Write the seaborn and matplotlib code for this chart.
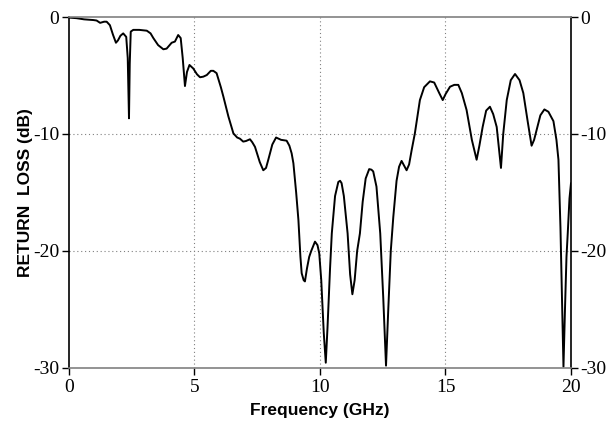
import matplotlib
matplotlib.use('Agg')
import matplotlib.pyplot as plt
import numpy as np
import pandas as pd
import seaborn as sns

# values
freq_ghz = [0.0, 0.3, 0.6, 0.97, 1.1, 1.24, 1.4, 1.5, 1.63, 1.75, 1.87, 1.95, 2.05, 2.16, 2.28, 2.34, 2.39, 2.42,
            2.46, 2.56, 2.8, 3.1, 3.25, 3.36, 3.55, 3.76, 3.89, 4.09, 4.22, 4.35, 4.45, 4.53, 4.62, 4.7, 4.8, 4.95,
            5.1, 5.22, 5.35, 5.49, 5.65, 5.75, 5.88, 6.05, 6.15, 6.35, 6.55, 6.7, 6.81, 6.94, 7.05, 7.21, 7.3, 7.41,
            7.6, 7.74, 7.85, 7.94, 8.1, 8.25, 8.45, 8.67, 8.78, 8.87, 8.94, 9.05, 9.14, 9.22, 9.27, 9.35, 9.4, 9.48,
            9.57, 9.65, 9.8, 9.9, 9.97, 10.05, 10.15, 10.23, 10.3, 10.4, 10.47, 10.6, 10.73, 10.8, 10.86, 10.95,
            11.1, 11.2, 11.29, 11.38, 11.48, 11.59, 11.7, 11.82, 11.96, 12.05, 12.12, 12.25, 12.4, 12.52, 12.63,
            12.72, 12.82, 12.92, 13.05, 13.15, 13.25, 13.35, 13.45, 13.55, 13.65, 13.78, 13.98, 14.15, 14.38, 14.55,
            14.75, 14.89, 15.0, 15.18, 15.35, 15.51, 15.65, 15.84, 16.05, 16.24, 16.35, 16.48, 16.62, 16.77, 16.9,
            17.04, 17.14, 17.21, 17.3, 17.44, 17.6, 17.77, 17.95, 18.1, 18.28, 18.43, 18.53, 18.63, 18.78, 18.94,
            19.1, 19.3, 19.42, 19.5, 19.58, 19.65, 19.7, 19.76, 19.82, 19.87, 19.94, 20.0]
return_loss_db = [-0.05, -0.1, -0.2, -0.26, -0.3, -0.5, -0.4, -0.4, -0.7, -1.5, -2.2, -2.0, -1.6, -1.4, -1.7, -3.5,
                  -8.66, -4.0, -1.25, -1.1, -1.1, -1.17, -1.4, -1.8, -2.4, -2.76, -2.7, -2.2, -2.1, -1.54, -1.8, -3.5,
                  -5.9, -4.7, -4.1, -4.4, -4.9, -5.15, -5.1, -4.96, -4.6, -4.6, -4.8, -6.0, -6.8, -8.5, -9.95, -10.3,
                  -10.4, -10.65, -10.6, -10.45, -10.7, -11.1, -12.4, -13.1, -12.9, -12.2, -10.9, -10.3, -10.5, -10.57,
                  -11.0, -11.65, -12.5, -15.0, -17.35, -20.5, -21.9, -22.5, -22.6, -21.5, -20.5, -20.0, -19.2, -19.5,
                  -20.2, -22.5, -27.0, -29.55, -26.5, -21.5, -18.5, -15.3, -14.1, -14.0, -14.2, -15.3, -18.5, -22.0,
                  -23.7, -22.5, -20.0, -18.5, -15.8, -13.8, -13.0, -13.05, -13.2, -14.5, -18.5, -24.0, -29.8, -25.0,
                  -20.0, -17.1, -14.0, -12.8, -12.3, -12.7, -13.1, -12.6, -11.4, -9.94, -7.1, -6.0, -5.5, -5.6, -6.5,
                  -7.1, -6.6, -5.96, -5.8, -5.8, -6.5, -7.95, -10.5, -12.2, -11.0, -9.4, -8.0, -7.67, -8.3, -9.4,
                  -11.5, -12.9, -10.0, -7.1, -5.4, -4.87, -5.4, -6.5, -9.0, -11.0, -10.5, -9.66, -8.4, -7.9, -8.1,
                  -8.9, -10.5, -12.2, -18.0, -25.0, -29.9, -25.0, -20.5, -18.5, -15.5, -14.2]
x_ticks = [0, 5, 10, 15, 20]
y_ticks = [0, -10, -20, -30]

df = pd.DataFrame({'freq': freq_ghz, 'rl': return_loss_db})

sns.set_style('white')
fig = plt.figure(figsize=(6.09, 4.22), dpi=100)
ax = fig.add_axes([0.1133, 0.128, 0.8243, 0.8317])

sns.lineplot(data=df, x='freq', y='rl', color='black', linewidth=1.4, ax=ax, sort=False)

ax.set_xlim(0, 20)
ax.set_ylim(-30, 0)
ax.set_xticks(x_ticks)
ax.set_yticks(y_ticks)

tick_font = {'family': 'Liberation Serif', 'size': 14}
ax.set_xticklabels([str(t) for t in x_ticks], fontdict=tick_font)
ax.set_yticklabels([str(t) for t in y_ticks], fontdict=tick_font)
ax.tick_params(axis='y', which='both', left=True, right=True, labelleft=True, labelright=True,
               direction='out', length=5, width=1, pad=2, colors='black')
for t in ax.yaxis.get_major_ticks():
    t.label2.set_family('Liberation Serif')
    t.label2.set_fontsize(14)
ax.tick_params(axis='x', bottom=True, direction='out', length=5, width=1, pad=3, colors='black')

for v in [5, 10, 15]:
    ax.axvline(v, color='#808080', linestyle=(0, (1, 2.5)), linewidth=0.8, zorder=0)
for v in [-10, -20]:
    ax.axhline(v, color='#808080', linestyle=(0, (1, 2.5)), linewidth=0.8, zorder=0)

ax.spines['left'].set_color('black')
ax.spines['right'].set_color('black')
ax.spines['top'].set_color('#808080')
ax.spines['bottom'].set_color('#808080')
for s in ax.spines.values():
    s.set_linewidth(1.2)

ax.set_xlabel('Frequency (GHz)', fontsize=12.5, fontweight='bold', family='Liberation Sans',
              color='black', labelpad=5)
ax.set_ylabel('RETURN  LOSS (dB)', fontsize=12.5, fontweight='bold', family='Liberation Sans',
              color='black', labelpad=0)

fig.savefig('out.png', dpi=100)
